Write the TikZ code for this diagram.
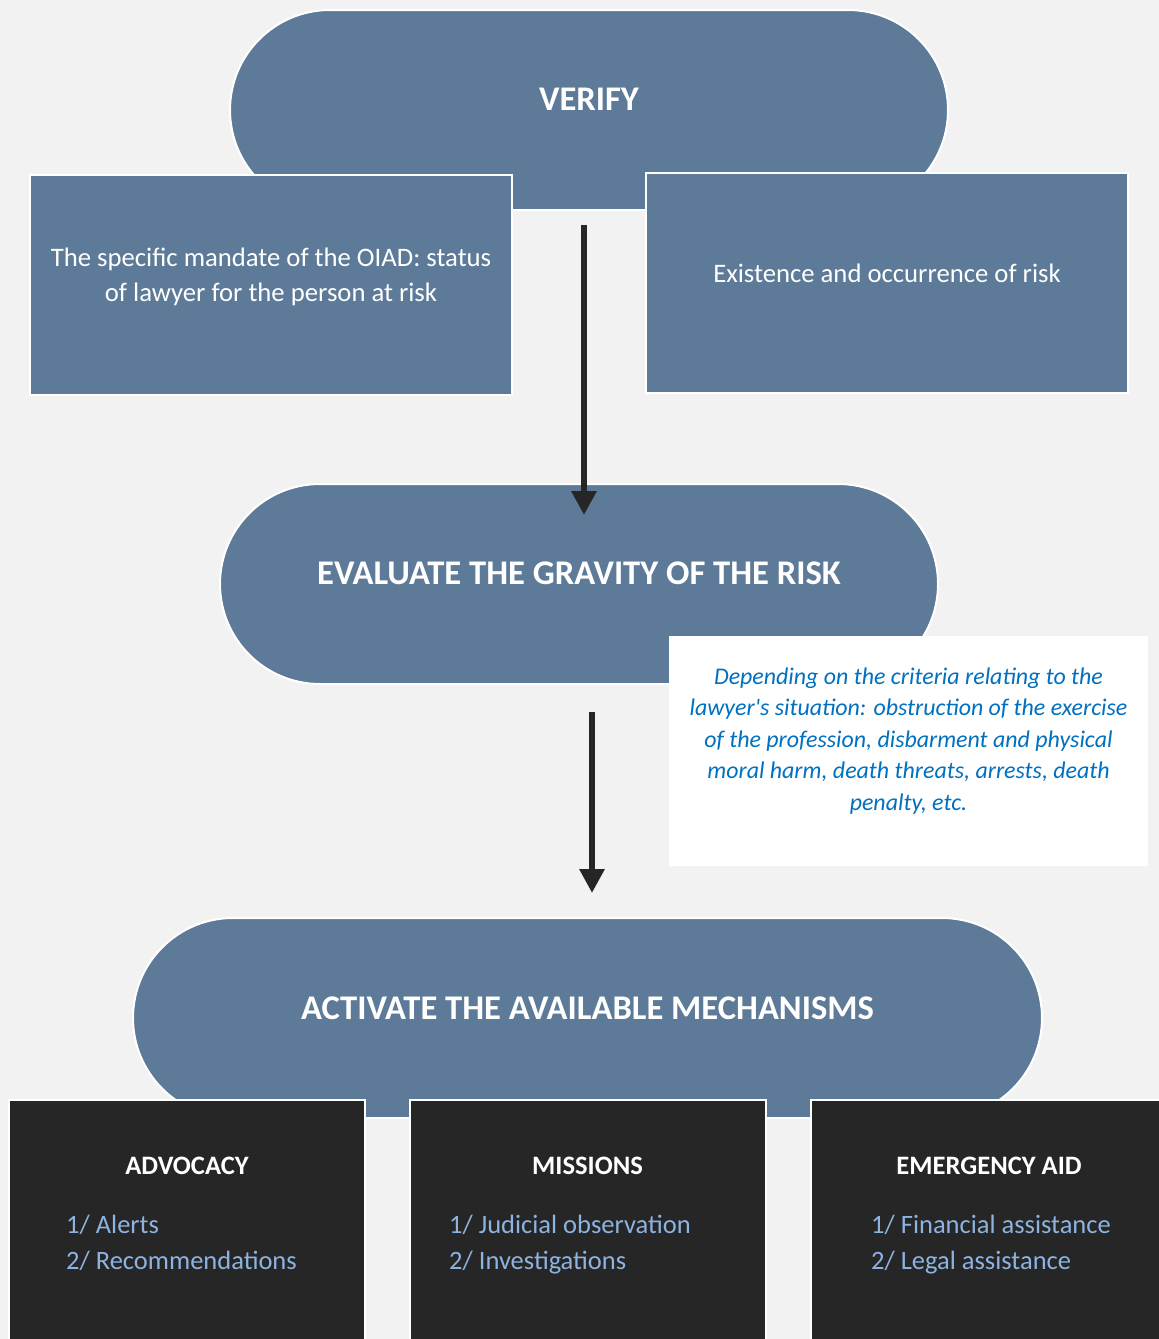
\documentclass[tikz,border=0pt]{standalone}
\usepackage{fontspec}
\setmainfont{Carlito}[Ligatures=TeXOff]
\usetikzlibrary{shapes.misc,arrows.meta,calc}
\definecolor{slateblue}{HTML}{5D7A98}
\definecolor{darkbox}{HTML}{262626}
\definecolor{notetext}{HTML}{0070C0}
\definecolor{listtext}{HTML}{8DB3E2}
\definecolor{pagegrey}{HTML}{F2F2F2}

\begin{document}
\begin{tikzpicture}[x=1pt,y=-1pt,
  stadium/.style={rounded rectangle,fill=slateblue,draw=white,line width=2pt,
    minimum height=200pt,inner sep=0pt},
  bluebox/.style={rectangle,fill=slateblue,draw=white,line width=2pt,
    minimum width=482pt,minimum height=220pt,inner sep=0pt},
  darkbox/.style={rectangle,fill=darkbox,draw=white,line width=2pt,
    minimum width=356pt,minimum height=250pt,inner sep=0pt,anchor=north},
  headtext/.style={text=white,font=\fontsize{34.6}{40}\selectfont\bfseries},
  bodytext/.style={text=white,align=center,font=\fontsize{26.7}{35}\selectfont},
  notetext/.style={text=notetext,align=center,font=\fontsize{23.9}{31.5}\selectfont\itshape},
  boxhead/.style={text=white,font=\fontsize{26.6}{30}\selectfont\bfseries},
  listtext/.style={text=listtext,align=left,anchor=west,inner sep=0pt,
    text height=18pt,text depth=7pt,font=\fontsize{26.5}{36}\selectfont},
  flow/.style={draw=darkbox,line width=6pt,-{Triangle[length=24pt,width=24pt]}}]
  \useasboundingbox (0,0) rectangle (1159,1339);
  \clip (0,0) rectangle (1159,1339);
  \fill[pagegrey] (0,0) rectangle (1159,1339);

  % verify
  \node[stadium,minimum width=718pt] (verify) at (589,110) {};
  \node[headtext] (verifytxt) at ($(verify)+(0,-11)$) {VERIFY};
  \node[bluebox] (mandate) at (271,285) {};
    \node[bodytext] (mandatetxt) at ($(mandate)+(0,-8)$)
      {The specific mandate of the OIAD: status\\of lawyer for the person at risk};
  \node[bluebox] (risk) at (887,283) {};
    \node[bodytext] (risktxt) at ($(risk)+(0,-10)$) {Existence and occurrence of risk};

  % evaluate
  \node[stadium,minimum width=718pt] (evaluate) at (579,584) {};
  \node[headtext] (evaluatetxt) at ($(evaluate)+(0,-11)$) {EVALUATE THE GRAVITY OF THE RISK};
  \node[rectangle,fill=white,minimum width=479pt,minimum height=230pt,inner sep=0pt]
    (note) at (908.5,751) {};
    \node[notetext] (notetxt) at ($(note)+(0,-10)$)
      {Depending on the criteria relating to the\\
       lawyer's situation: obstruction of the exercise\\
       of the profession, disbarment and physical\\
       moral harm, death threats, arrests, death\\
       penalty, etc.};

  \draw[flow] ($(verify.south)+(-5,14)$) -- ($(evaluate.north)+(5,32)$);

  % activate
  \node[stadium,minimum width=909pt] (activate) at (587.5,1018) {};
  \node[headtext] (activatetxt) at ($(activate)+(0,-10)$) {ACTIVATE THE AVAILABLE MECHANISMS};

  \draw[flow] ($(evaluate.south)+(13,27)$) -- ($(activate.north)+(4.5,-24)$);

  \foreach \bn/\bx/\bhead/\bla/\blb/\bli in {
      advocacy/187/ADVOCACY/Alerts/Recommendations/66,
      missions/587.5/MISSIONS/Judicial observation/Investigations/449,
      emergency/989/EMERGENCY AID/Financial assistance/Legal assistance/871} {
    \node[darkbox] (\bn) at (\bx,1099) {};
    \node[boxhead] (\bn head) at ($(\bn.north)+(0,67)$) {\bhead};
    \node[listtext] (\bn list) at (\bli,1263.5) {1/ \bla\\2/ \blb};
  }
\end{tikzpicture}
\end{document}
